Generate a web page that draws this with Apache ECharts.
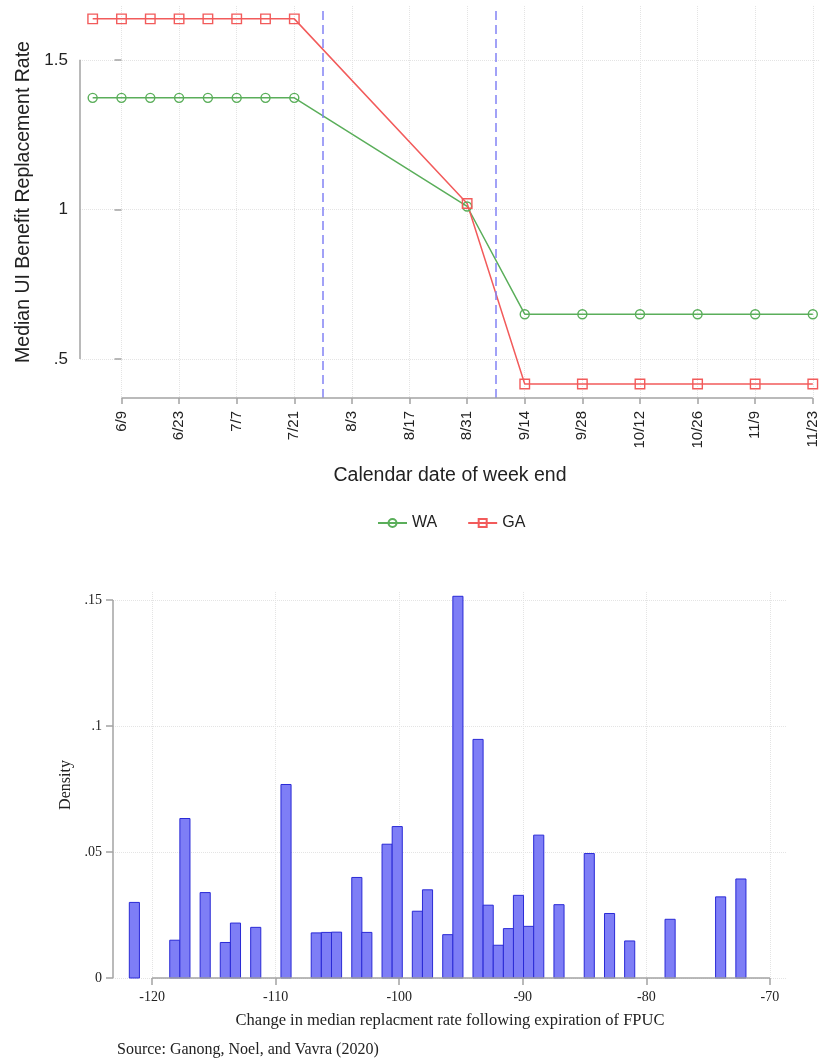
<!DOCTYPE html>
<html><head><meta charset="utf-8">
<script src="https://cdn.jsdelivr.net/npm/echarts@6/dist/echarts.min.js"></script>
<style>html,body{margin:0;padding:0;background:#fff}#c{width:822px;height:1061px}</style>
</head><body><div id="c"></div>
<script>
// ---- Top chart data ----
const weekLabels = ['6/9','6/23','7/7','7/21','8/3','8/17','8/31','9/14','9/28','10/12','10/26','11/9','11/23'];
const tickWeeks = [0,2,4,6,8,10,12,14,16,18,20,22,24];
const obsWeeks = [-1,0,1,2,3,4,5,6,12,14,16,18,20,22,24];
const waRate = [1.373,1.373,1.373,1.373,1.373,1.373,1.373,1.373,1.01,0.65,0.65,0.65,0.65,0.65,0.65];
const gaRate = [1.637,1.637,1.637,1.637,1.637,1.637,1.637,1.637,1.02,0.417,0.417,0.417,0.417,0.417,0.417];
const eventWeeks = [7,13];
const rateTicks = [0.5,1,1.5];

// ---- Bottom chart data ----
const binCenters = [-121.43,-118.16,-117.34,-115.70,-114.07,-113.25,-111.61,-109.16,-106.71,-105.89,-105.07,-103.43,-102.62,-100.98,-100.16,-98.53,-97.71,-96.07,-95.25,-93.62,-92.80,-91.98,-91.16,-90.35,-89.53,-88.71,-87.07,-84.62,-82.98,-81.35,-78.08,-73.99,-72.35];
const binDensity = [0.030,0.015,0.0633,0.0339,0.0141,0.0218,0.0201,0.0768,0.0179,0.0181,0.0182,0.0399,0.0181,0.0531,0.0601,0.0265,0.035,0.0172,0.1515,0.0947,0.0289,0.0130,0.0196,0.0328,0.0205,0.0567,0.0291,0.0494,0.0256,0.0147,0.0233,0.0322,0.0393];
const binWidth = 0.818;
const changeTicks = [-120,-110,-100,-90,-80,-70];
const densityTicks = [0,0.05,0.1,0.15];

const topXMin = -1.44, topXMax = 24.25, topYMin = 0.37, topYMax = 1.68;
const botXMin = -123.16, botXMax = -68.62, botYMin = 0, botYMax = 0.1532;

const SANS = 'Liberation Sans, Arial, sans-serif';
const SERIF = 'Liberation Serif, Times New Roman, serif';
const axisGray = '#a3a3a3';
const gridStyle = {show:true, lineStyle:{color:'#e4e4e4', type:'dotted', width:1}};
const green = '#5aae5a', red = '#f25b5b';
const noLead = v => String(v).replace(/^0\./,'.').replace(/^-0\./,'-.');

const chart = echarts.init(document.getElementById('c'), null, {renderer:'canvas'});

const axisSegStyle = {type:'solid', color:axisGray, width:1.5};
const seg = (a,b) => [{coord:a, lineStyle:axisSegStyle},{coord:b, lineStyle:axisSegStyle}];

chart.setOption({
  animation:false,
  backgroundColor:'#fff',
  textStyle:{fontFamily:SANS},
  legend:{
    data:['WA','GA'], left:372, top:510, itemWidth:29, itemHeight:10, itemGap:30,
    textStyle:{fontFamily:SANS, fontSize:16, color:'#222'}
  },
  grid:[
    {left:80, top:6, width:740, height:392},
    {left:113, top:592, width:674, height:386}
  ],
  xAxis:[
    {gridIndex:0, type:'value', min:topXMin, max:topXMax,
     axisLine:{show:false},
     axisTick:{show:true, customValues:tickWeeks, length:6, lineStyle:{color:axisGray, width:1.5}},
     axisLabel:{customValues:tickWeeks, rotate:90, margin:13, fontFamily:SANS, fontSize:15, color:'#222',
       formatter:v => weekLabels[tickWeeks.indexOf(v)]},
     splitLine:gridStyle,
     name:'Calendar date of week end', nameLocation:'middle', nameGap:68,
     nameTextStyle:{fontFamily:SANS, fontSize:19.5, color:'#222'}},
    {gridIndex:1, type:'value', min:botXMin, max:botXMax,
     axisLine:{show:false},
     axisTick:{show:true, customValues:changeTicks, length:7, lineStyle:{color:axisGray, width:1.5}},
     axisLabel:{customValues:changeTicks, margin:12, fontFamily:SERIF, fontSize:14, color:'#222'},
     splitLine:gridStyle,
     name:'Change in median replacment rate following expiration of FPUC', nameLocation:'middle', nameGap:34,
     nameTextStyle:{fontFamily:SERIF, fontSize:16.5, color:'#222'}}
  ],
  yAxis:[
    {gridIndex:0, type:'value', min:topYMin, max:topYMax,
     axisLine:{show:false},
     axisTick:{show:true, customValues:rateTicks, length:7, lineStyle:{color:axisGray, width:1.5}},
     axisLabel:{customValues:rateTicks, margin:12, fontFamily:SANS, fontSize:17, color:'#222', formatter:noLead},
     splitLine:gridStyle,
     name:'Median UI Benefit Replacement Rate', nameLocation:'middle', nameGap:46,
     nameTextStyle:{fontFamily:SANS, fontSize:19.5, color:'#222'}},
    {gridIndex:1, type:'value', min:botYMin, max:botYMax,
     axisLine:{show:false},
     axisTick:{show:true, customValues:densityTicks, length:7, lineStyle:{color:axisGray, width:1.5}},
     axisLabel:{customValues:densityTicks, margin:11, fontFamily:SERIF, fontSize:14, color:'#222', formatter:noLead},
     splitLine:gridStyle,
     name:'Density', nameLocation:'middle', nameGap:38,
     nameTextStyle:{fontFamily:SERIF, fontSize:16, color:'#222'}}
  ],
  graphic:[
    {type:'text', left:117, top:1042, style:{text:'Source: Ganong, Noel, and Vavra (2020)', font:'16px '+SERIF, fill:'#222'}}
  ],
  series:[
    {name:'WA', type:'line', xAxisIndex:0, yAxisIndex:0,
     data:obsWeeks.map((w,i)=>[w, waRate[i]]),
     symbol:'circle', symbolSize:9, showAllSymbol:true,
     lineStyle:{color:green, width:1.5},
     itemStyle:{color:'rgba(255,255,255,0)', borderColor:green, borderWidth:1.4},
     z:3,
     markLine:{silent:true, symbol:'none', label:{show:false},
       data:[
         ...eventWeeks.map(w => ({xAxis:w, lineStyle:{type:[9,5], color:'#8383f5', width:1.5}})),
         seg([tickWeeks[0], topYMin],[tickWeeks[tickWeeks.length-1], topYMin]),
         seg([topXMin, rateTicks[0]],[topXMin, rateTicks[rateTicks.length-1]])
       ]}
    },
    {name:'GA', type:'line', xAxisIndex:0, yAxisIndex:0,
     data:obsWeeks.map((w,i)=>[w, gaRate[i]]),
     symbol:'rect', symbolSize:9.5, showAllSymbol:true,
     lineStyle:{color:red, width:1.5},
     itemStyle:{color:'rgba(255,255,255,0)', borderColor:red, borderWidth:1.4},
     z:3},
    {name:'hist', type:'custom', xAxisIndex:1, yAxisIndex:1,
     data:binCenters.map((c,i)=>[c, binDensity[i]]),
     renderItem:(params, api) => {
       const c = api.value(0), h = api.value(1);
       const p0 = api.coord([c - binWidth/2, h]);
       const p1 = api.coord([c + binWidth/2, 0]);
       return {type:'rect', shape:{x:p0[0], y:p0[1], width:p1[0]-p0[0], height:p1[1]-p0[1]},
         style:{fill:'#7e7ef6', stroke:'#2a2ad6', lineWidth:1}};
     },
     markLine:{silent:true, symbol:'none', label:{show:false},
       data:[
         seg([changeTicks[0], botYMin],[changeTicks[changeTicks.length-1], botYMin]),
         seg([botXMin, densityTicks[0]],[botXMin, densityTicks[densityTicks.length-1]])
       ]}
    }
  ]
});
</script></body></html>
